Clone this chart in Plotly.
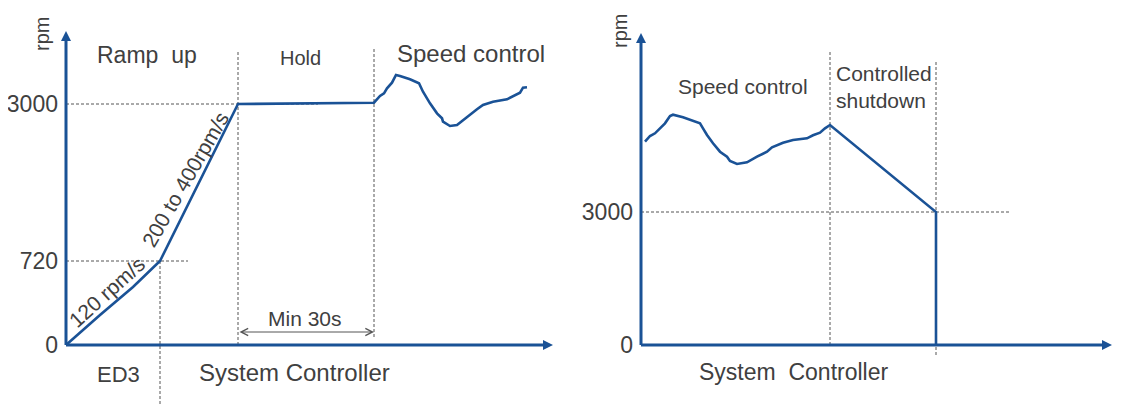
import plotly.graph_objects as go

# ---------------- data (schematic units: origin of each panel = 0,0) ----------------
# Left panel: ED3 ramp, hold, speed control
left_t = [0, 34, 67, 94, 172, 308, 314, 318, 321, 326, 330, 334, 344, 353, 357, 364, 371,
          376, 377, 384, 391, 397, 404, 411, 417, 427, 441, 447, 454, 457, 461]
left_v = [0, 30, 58, 84, 241, 242.3, 249, 251.7, 256.7, 262.3, 270, 269, 265.7, 261.7, 253.3,
          241.7, 231.7, 226.7, 223.3, 219, 220, 225, 230, 235.7, 240, 243.3, 245.7, 249,
          252.3, 257.3, 257.7]
left_tick_vals = [0, 84, 241]
left_tick_text = ["0", "720", "3000"]

# Right panel: speed control then controlled shutdown
right_t = [4, 9, 14, 19, 24, 29, 32, 42, 52, 59, 62, 66, 72, 79, 86, 89, 96, 106, 116, 126,
           131, 142, 152, 166, 172, 179, 184, 189, 295, 295]
right_v = [203.3, 209, 211.7, 216.7, 221.7, 229, 230.3, 227.7, 224.3, 221.7, 216.7, 210,
           201.7, 193.3, 188.3, 184, 181, 182.7, 188.3, 193.3, 197.7, 202.3, 205, 206.7,
           209.7, 212.3, 216.7, 220, 133, 0]
right_tick_vals = [0, 133]
right_tick_text = ["0", "3000"]

# key breakpoints (schematic units)
L_720_T, L_3000_T, L_HOLD_END = 94, 172, 308
R_SHUT_START, R_SHUT_END = 189, 295

BLUE = "#1A5296"
GRAY = "#555555"
TXT = "#404040"
FONT = "Liberation Sans, Arial, sans-serif"

# page body has an 8px default margin -> figure is 16px smaller than the window
PAGE_PAD = 8
W, H = 1121 - 2 * PAGE_PAD, 412 - 2 * PAGE_PAD
LEFT_ORIGIN_X, RIGHT_ORIGIN_X, ORIGIN_Y = 66 - PAGE_PAD, 641 - PAGE_PAD, 345 - PAGE_PAD
SPLIT = 560 - PAGE_PAD

fig = go.Figure()

# axes drawn as lines with arrow tips
fig.add_trace(go.Scatter(x=[0, 0, None, 0, 480], y=[306, 0, None, 0, 0], mode="lines",
                         line=dict(color=BLUE, width=3), xaxis="x", yaxis="y",
                         hoverinfo="skip", showlegend=False))
fig.add_trace(go.Scatter(x=[0, 487], y=[314, 0], mode="markers",
                         marker=dict(symbol=["arrow-up", "arrow-right"], size=10, color=BLUE,
                                     line=dict(width=0)),
                         xaxis="x", yaxis="y", hoverinfo="skip", showlegend=False))
fig.add_trace(go.Scatter(x=[0, 0, None, 0, 464], y=[304, 0, None, 0, 0], mode="lines",
                         line=dict(color=BLUE, width=3), xaxis="x2", yaxis="y2",
                         hoverinfo="skip", showlegend=False))
fig.add_trace(go.Scatter(x=[0, 471], y=[312, 0], mode="markers",
                         marker=dict(symbol=["arrow-up", "arrow-right"], size=10, color=BLUE,
                                     line=dict(width=0)),
                         xaxis="x2", yaxis="y2", hoverinfo="skip", showlegend=False))

# curves
fig.add_trace(go.Scatter(x=left_t, y=left_v, mode="lines",
                         line=dict(color=BLUE, width=2.6),
                         xaxis="x", yaxis="y", hoverinfo="skip", showlegend=False))
fig.add_trace(go.Scatter(x=right_t, y=right_v, mode="lines",
                         line=dict(color=BLUE, width=2.6),
                         xaxis="x2", yaxis="y2", hoverinfo="skip", showlegend=False))

# dashed guide lines
def dline(x0, y0, x1, y1, ax):
    fig.add_shape(type="line", x0=x0, y0=y0, x1=x1, y1=y1, xref=ax[0], yref=ax[1],
                  line=dict(color=GRAY, width=1, dash="3px,2px"), layer="below")

dline(0, left_tick_vals[2], 252, left_tick_vals[2], ("x", "y"))
dline(0, left_tick_vals[1], 122, left_tick_vals[1], ("x", "y"))
dline(L_720_T, left_tick_vals[1], L_720_T, -66, ("x", "y"))
dline(L_3000_T, 0, L_3000_T, 295, ("x", "y"))
dline(L_HOLD_END, 8, L_HOLD_END, 298, ("x", "y"))
dline(0, right_tick_vals[1], 369, right_tick_vals[1], ("x2", "y2"))
dline(R_SHUT_START, 0, R_SHUT_START, 295, ("x2", "y2"))
dline(R_SHUT_END, -10, R_SHUT_END, 283, ("x2", "y2"))

ann = []
def text(x, y, s, ax, size, angle=0, xanchor="center", align="center"):
    ann.append(dict(x=x, y=y, xref=ax[0], yref=ax[1], text=s, showarrow=False,
                    textangle=angle, xanchor=xanchor, yanchor="middle", align=align,
                    font=dict(family=FONT, size=size, color=TXT)))

L, R = ("x", "y"), ("x2", "y2")
text(81, 290, "Ramp&nbsp;&nbsp;up", L, 23)
text(234, 287, "Hold", L, 20)
text(405, 292, "Speed control", L, 24)
text(239, 27, "Min 30s", L, 21)
text(52, -29, "ED3", L, 22)
text(228, -27, "System Controller", L, 24)
text(40, 53, "120 rpm/s", L, 21, angle=-42)
text(119, 166, "200 to 400rpm/s", L, 21, angle=-60)
text(-24, 311, "rpm", L, 20, angle=-90)

text(102, 259, "Speed control", R, 21)
text(193, 258, "Controlled<br>shutdown", R, 21, xanchor="left", align="left")
text(153, -27, "System&nbsp;&nbsp;Controller", R, 23)
text(-21, 314, "rpm", R, 20, angle=-90)

# Min 30s double arrow
ann.append(dict(x=L_HOLD_END, y=13, ax=L_3000_T, ay=13, xref="x", yref="y", axref="x", ayref="y",
                text="", showarrow=True, arrowhead=5, startarrowhead=5, arrowside="end+start",
                arrowsize=1.4, startarrowsize=1.4, arrowwidth=1, arrowcolor=GRAY,
                standoff=0, startstandoff=0))

ax_common = dict(showgrid=False, zeroline=False, showline=False, fixedrange=True)
fig.update_layout(
    width=W, height=H, margin=dict(l=0, r=0, t=0, b=0),
    paper_bgcolor="white", plot_bgcolor="white", showlegend=False,
    xaxis=dict(domain=[0, SPLIT / W], range=[-LEFT_ORIGIN_X, SPLIT - LEFT_ORIGIN_X],
               visible=False, **ax_common),
    yaxis=dict(domain=[0, 1], range=[ORIGIN_Y - H, ORIGIN_Y], anchor="free",
               position=LEFT_ORIGIN_X / W, tickvals=left_tick_vals, ticktext=left_tick_text,
               ticks="", ticklabelstandoff=8, automargin=False,
               tickfont=dict(family=FONT, size=23, color=TXT), **ax_common),
    xaxis2=dict(domain=[SPLIT / W, 1], range=[SPLIT - RIGHT_ORIGIN_X, W - RIGHT_ORIGIN_X],
                visible=False, **ax_common),
    yaxis2=dict(domain=[0, 1], range=[ORIGIN_Y - H, ORIGIN_Y], anchor="free",
                position=RIGHT_ORIGIN_X / W, tickvals=right_tick_vals,
                ticktext=right_tick_text, ticks="", ticklabelstandoff=8, automargin=False,
                tickfont=dict(family=FONT, size=23, color=TXT), **ax_common),
    annotations=ann,
)

fig.write_html("out.html")
